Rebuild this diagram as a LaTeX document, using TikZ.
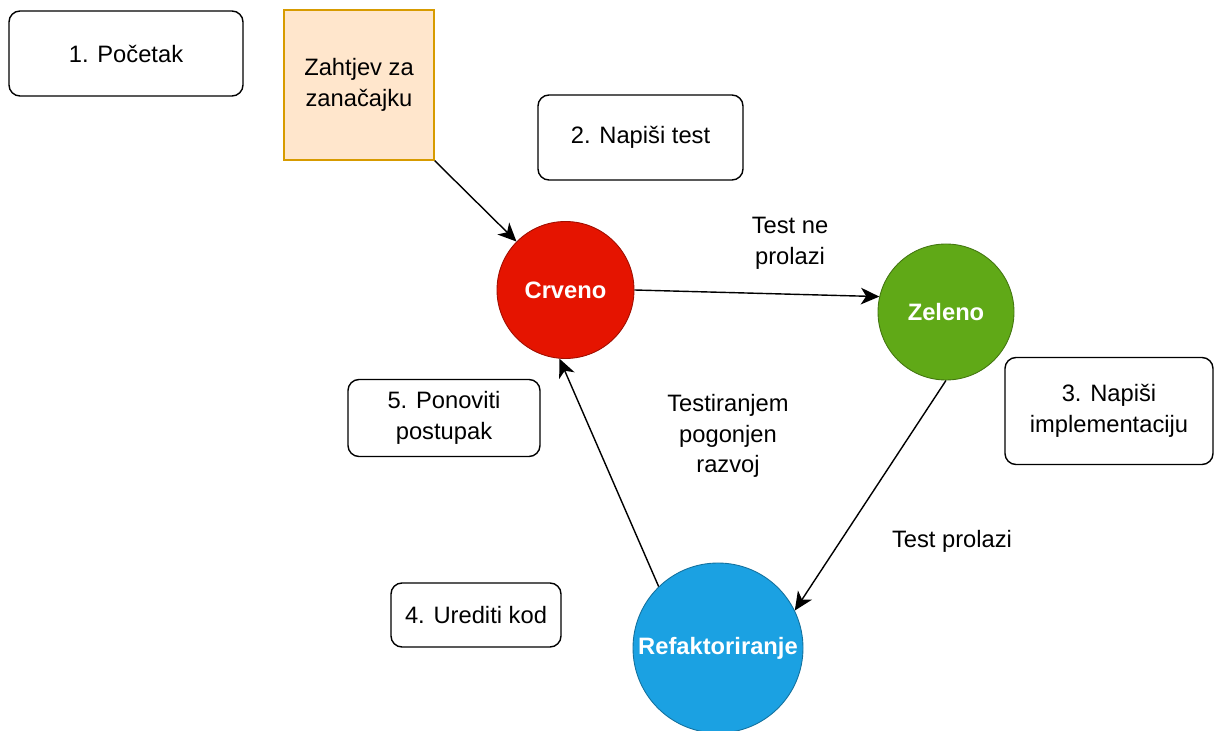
\documentclass[tikz,border=0pt]{standalone}
\usepackage{fontspec}
\setmainfont{Liberation Sans}
\usetikzlibrary{arrows.meta}
\definecolor{crvena}{HTML}{E51400}
\definecolor{zelena}{HTML}{60A917}
\definecolor{plava}{HTML}{1BA1E2}
\definecolor{narfill}{HTML}{FFE6CC}
\definecolor{narline}{HTML}{D79B00}
\tikzset{
  stepbox/.style={draw, line width=0.8pt, rounded corners=0.22cm, align=center,
                  font=\fontsize{13.5}{17.5}\selectfont},
  phase/.style={circle, draw=#1!70!black, fill=#1, line width=0.5pt, text=white,
                font=\fontsize{13.5}{17.5}\selectfont\bfseries, inner sep=0pt},
  note/.style={align=center, font=\fontsize{13.5}{17.5}\selectfont},
  flow/.style={draw, line width=0.8pt, -{Stealth[length=10.5pt, width=9.5pt, inset=3pt]}}
}
\begin{document}
\begin{tikzpicture}
	\useasboundingbox (0,0) rectangle (24.3,-14.62);

	% koraci
	\node[stepbox, minimum width=4.68cm, minimum height=1.70cm] (pocetak) at (2.52,-1.07) {1. Početak};
	\node[stepbox, minimum width=4.10cm, minimum height=1.70cm] (napisitest) at (12.81,-2.75) {2. Napiši test};
	\node[stepbox, minimum width=4.16cm, minimum height=2.14cm] (implementacija) at (22.18,-8.22) {3. Napiši\\implementaciju};
	\node[stepbox, minimum width=3.40cm, minimum height=1.28cm] (uredi) at (9.52,-12.30) {4. Urediti kod};
	\node[stepbox, minimum width=3.84cm, minimum height=1.54cm] (ponovi) at (8.88,-8.36) {5. Ponoviti\\postupak};

	\node[draw=narline, fill=narfill, line width=0.8pt, align=center, minimum width=3.0cm, minimum height=3.0cm,
	      font=\fontsize{13.5}{17.5}\selectfont] (zahtjev) at (7.18,-1.70) {Zahtjev za\\zanačajku};

	% faze
	\node[phase=crvena, minimum size=2.74cm] (crveno) at (11.31,-5.80) {Crveno};
	\node[phase=zelena, minimum size=2.72cm] (zeleno) at (18.92,-6.24) {Zeleno};
	\node[phase=plava, minimum size=3.40cm] (refakt) at (14.36,-12.96) {Refaktoriranje};

	% oznake
	\node[note] (neprolazi) at (15.80,-4.86) {Test ne\\prolazi};
	\node[note] (tdd) at (14.56,-8.72) {Testiranjem\\pogonjen\\razvoj};
	\node[note] (prolazi) at (19.04,-10.82) {Test prolazi};

	% strelice
	\draw[flow] (zahtjev.south east) -- (crveno);
	\draw[flow] (crveno.east) -- (zeleno.167);
	\draw[flow] (zeleno.south) -- (refakt.26);
	\draw[flow] (refakt.134) -- (crveno.265);

\end{tikzpicture}
\end{document}
